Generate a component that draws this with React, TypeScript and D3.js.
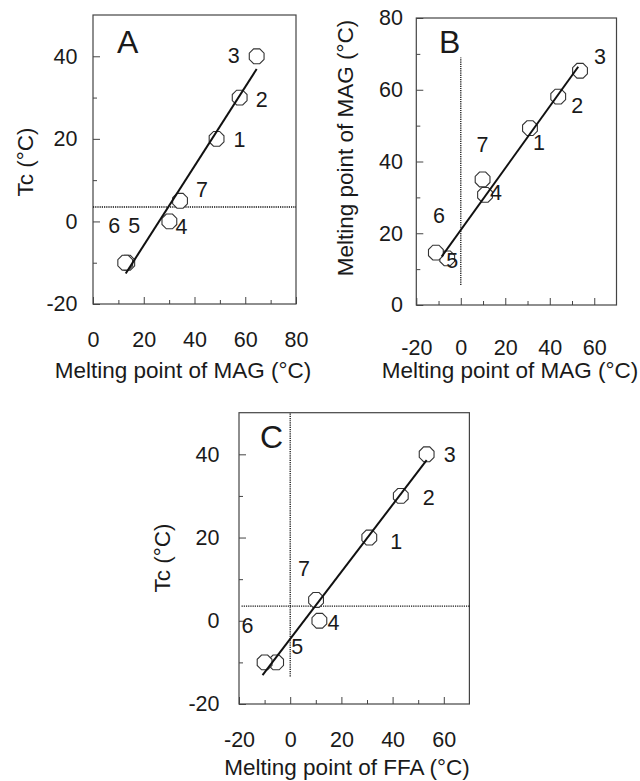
import * as d3 from "d3";
import { useEffect, useRef } from "react";

// sample numbers, same order in every series below
const sampleIds = ["1", "2", "3", "4", "5", "6", "7"];

// A: melting point of MAG (x) vs Tc (y)
const mpMagA = [48.7, 57.8, 64.5, 30.1, 13.5, 12.7, 34.3];
const tcA = [20, 30, 40, 0, -10, -10, 5];
const fitA = [[12.9, -12.6], [64.5, 36.9]];

// B: melting point of FFA (x, labelled MAG in the original) vs melting point of MAG (y)
const mpFfaB = [31.1, 43.8, 53.6, 10.9, -6.1, -11.2, 9.8];
const mpMagB = [49.3, 58.1, 65.3, 30.7, 13.0, 14.6, 35.0];
const fitB = [[-8.6, 13.5], [52.8, 66.4]];

// C: melting point of FFA (x) vs Tc (y)
const mpFfaC = [30.9, 43.2, 53.3, 11.4, -5.5, -10.0, 10.1];
const tcC = [20, 30, 40, 0, -10, -10, 5];
const fitC = [[-10.8, -13.05], [53.3, 38.6]];

// dotted reference lines [x1, y1, x2, y2]
const refA = [[0, 3.5, 80, 3.5]];
const refB = [[0, 5.6, 0, 69]];
const refC = [[0, -13.4, 0, 50], [-19, 3.5, 70, 3.5]];

// tick labels
const xTicksA = [0, 20, 40, 60, 80];
const yTicksA = [-20, 0, 20, 40];
const xTicksB = [-20, 0, 20, 40, 60];
const yTicksB = [0, 20, 40, 60, 80];
const xTicksC = [-20, 0, 20, 40, 60];
const yTicksC = [-20, 0, 20, 40];

const FONT = "'Liberation Sans', Arial, Helvetica, sans-serif";
const INK = "#1a1a1a";

const panels = [
	{
		letter: "A", xs: mpMagA, ys: tcA, fit: fitA, refs: refA,
		xTicks: xTicksA, yTicks: yTicksA,
		xDomain: [0, 80], yDomain: [-20, 50],
		left: 93, right: 296, top: 15, bottom: 304,
		xPad: 28, yPad: 15.5,
		xTitle: "Melting point of MAG (°C)", xTitlePos: [183, 378],
		yTitle: "Tc (°C)", yTitlePos: [33, 162],
		letterPos: [117, 53],
		offsets: [[23, 1], [22, 2], [-23, -1], [12, 5], [7, -37], [-11, -37], [22, -11]]
	},
	{
		letter: "B", xs: mpFfaB, ys: mpMagB, fit: fitB, refs: refB,
		xTicks: xTicksB, yTicks: yTicksB,
		xDomain: [-20, 70], yDomain: [0, 80],
		left: 416.3, right: 616.5, top: 18, bottom: 305,
		xPad: 34.5, yPad: 13.3,
		xTitle: "Melting point of MAG (°C)", xTitlePos: [510, 378],
		yTitle: "Melting point of MAG (°C)", yTitlePos: [353, 148],
		letterPos: [439, 53],
		offsets: [[9, 14], [19, 9], [20, -14], [11, -2], [5, 2], [3, -37], [0, -35]]
	},
	{
		letter: "C", xs: mpFfaC, ys: tcC, fit: fitC, refs: refC,
		xTicks: xTicksC, yTicks: yTicksC,
		xDomain: [-20, 70], yDomain: [-20, 50],
		left: 239, right: 469.4, top: 412.7, bottom: 704,
		xPad: 28.2, yPad: 19.5,
		xTitle: "Melting point of FFA (°C)", xTitlePos: [347, 775],
		yTitle: "Tc (°C)", yTitlePos: [170, 558],
		letterPos: [260, 448],
		offsets: [[27, 4], [28, 2], [23, 0], [14, 2], [21, -16], [-17, -37], [-12, -31]]
	}
];

const octagon = (r) => {
	const pts = d3.range(8).map(i => {
		const a = Math.PI / 8 + (i * Math.PI) / 4;
		return [r * Math.cos(a), r * Math.sin(a)];
	});
	return d3.line()(pts) + "Z";
};

const drawPanel = (svg, p) => {
	const x = d3.scaleLinear().domain(p.xDomain).range([p.left, p.right]);
	const y = d3.scaleLinear().domain(p.yDomain).range([p.bottom, p.top]);
	const g = svg.append("g");

	const minorX = d3.range(p.xDomain[0] + 10, p.xDomain[1], 10).filter(v => !p.xTicks.includes(v));
	const minorY = d3.range(p.yDomain[0] + 10, p.yDomain[1], 10).filter(v => !p.yTicks.includes(v));

	const styleAxis = sel => {
		sel.select(".domain").remove();
		sel.selectAll("line").attr("stroke", "#444").attr("stroke-width", 1);
		sel.selectAll("text").attr("fill", INK);
		sel.attr("font-family", FONT).attr("font-size", 21.5);
	};

	g.append("g")
		.attr("transform", `translate(0,${p.bottom})`)
		.call(d3.axisBottom(x).tickValues(minorX).tickFormat(() => "").tickSize(-4))
		.call(styleAxis);
	g.append("g")
		.attr("transform", `translate(0,${p.bottom})`)
		.call(d3.axisBottom(x).tickValues(p.xTicks).tickFormat(d3.format("d")).tickSize(-7).tickPadding(p.xPad))
		.call(styleAxis);
	g.append("g")
		.attr("transform", `translate(${p.left},0)`)
		.call(d3.axisLeft(y).tickValues(minorY).tickFormat(() => "").tickSize(-4))
		.call(styleAxis);
	g.append("g")
		.attr("transform", `translate(${p.left},0)`)
		.call(d3.axisLeft(y).tickValues(p.yTicks).tickFormat(d3.format("d")).tickSize(-7).tickPadding(p.yPad))
		.call(styleAxis);

	// axis minus signs are hyphens in the original
	g.selectAll(".tick text").text(function () {
		return d3.select(this).text().replace("\u2212", "-");
	});

	g.append("rect")
		.attr("x", p.left)
		.attr("y", p.top)
		.attr("width", p.right - p.left)
		.attr("height", p.bottom - p.top)
		.attr("fill", "none")
		.attr("stroke", "#444")
		.attr("stroke-width", 1.2);

	g.selectAll(".ref")
		.data(p.refs)
		.enter()
		.append("line")
		.attr("x1", d => x(d[0]))
		.attr("y1", d => y(d[1]))
		.attr("x2", d => x(d[2]))
		.attr("y2", d => y(d[3]))
		.attr("stroke", "#111")
		.attr("stroke-width", 1.3)
		.attr("stroke-dasharray", "1.2,1");

	const pts = p.xs.map((v, i) => ({ id: sampleIds[i], x: v, y: p.ys[i], off: p.offsets[i] }));

	g.append("g")
		.selectAll("path")
		.data(pts)
		.enter()
		.append("path")
		.attr("d", octagon(8))
		.attr("transform", d => `translate(${x(d.x)},${y(d.y)})`)
		.attr("fill", "white")
		.attr("stroke", "#333")
		.attr("stroke-width", 1.1);

	g.append("path")
		.attr("d", d3.line().x(d => x(d[0])).y(d => y(d[1]))(p.fit))
		.attr("fill", "none")
		.attr("stroke", "#111")
		.attr("stroke-width", 2);

	g.append("g")
		.selectAll("text")
		.data(pts)
		.enter()
		.append("text")
		.attr("x", d => x(d.x) + d.off[0])
		.attr("y", d => y(d.y) + d.off[1])
		.attr("dy", "0.35em")
		.attr("text-anchor", "middle")
		.attr("font-family", FONT)
		.attr("font-size", 21.5)
		.attr("fill", INK)
		.text(d => d.id);

	g.append("text")
		.attr("x", p.letterPos[0])
		.attr("y", p.letterPos[1])
		.attr("font-family", FONT)
		.attr("font-size", 32)
		.attr("fill", INK)
		.text(p.letter);

	g.append("text")
		.attr("x", p.xTitlePos[0])
		.attr("y", p.xTitlePos[1])
		.attr("text-anchor", "middle")
		.attr("font-family", FONT)
		.attr("font-size", 22.5)
		.attr("fill", INK)
		.text(p.xTitle);

	g.append("text")
		.attr("transform", `translate(${p.yTitlePos[0]},${p.yTitlePos[1]}) rotate(-90)`)
		.attr("text-anchor", "middle")
		.attr("font-family", FONT)
		.attr("font-size", 22.5)
		.attr("fill", INK)
		.text(p.yTitle);
};

export default function App() {
	const ref = useRef(null);

	useEffect(() => {
		const svg = d3.select(ref.current);
		svg.selectAll("*").remove();
		panels.forEach(p => drawPanel(svg, p));
	}, []);

	return (
		<svg
			ref={ref}
			width={640}
			height={781}
			style={{ position: "absolute", left: 0, top: 0, background: "white" }}
		/>
	);
}
